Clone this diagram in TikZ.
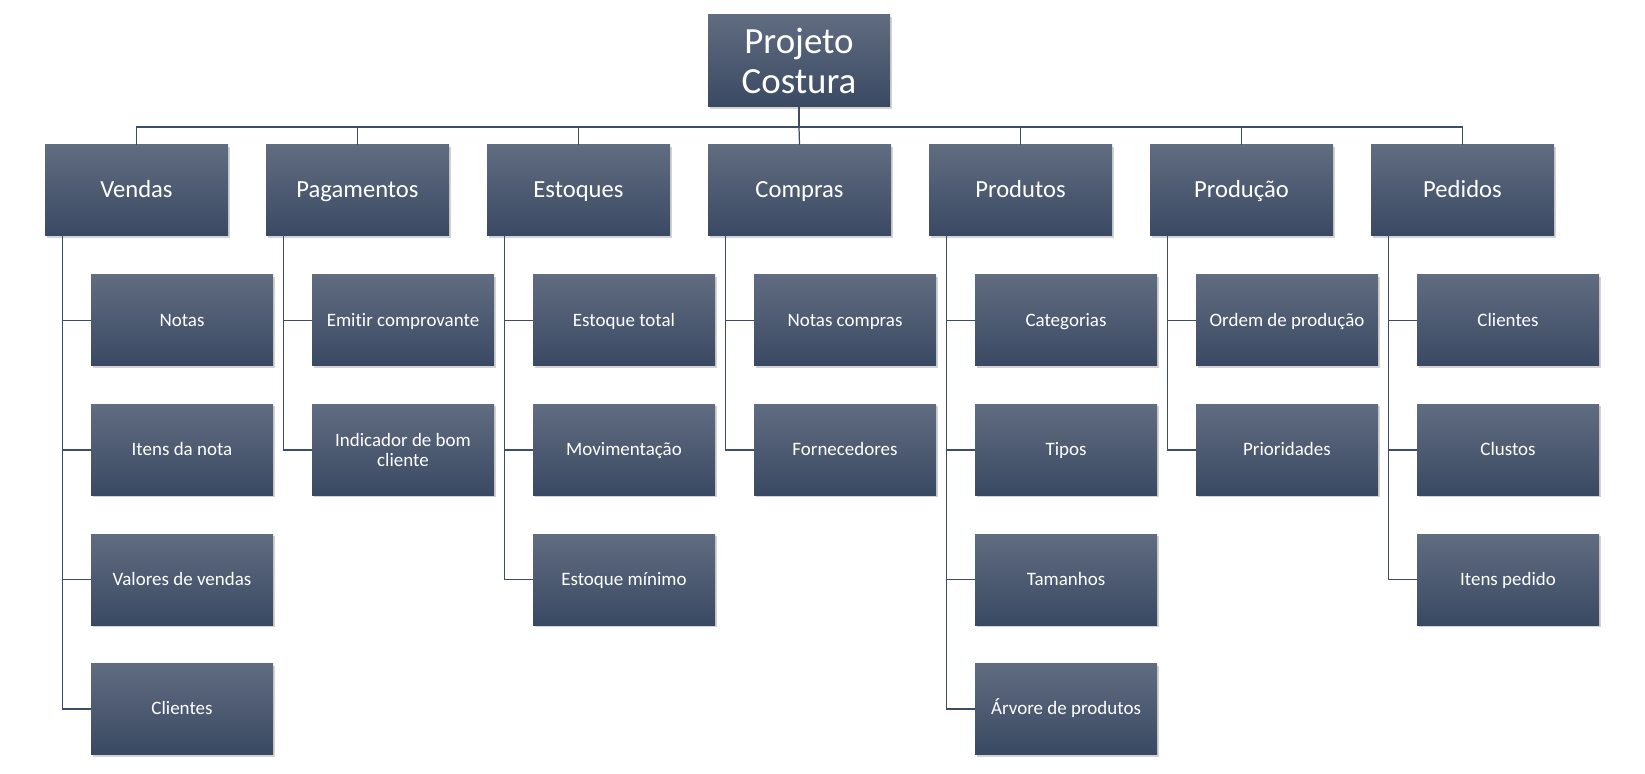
\documentclass[tikz,border=0pt]{standalone}
\usepackage{fontspec}
\setmainfont{Carlito}[RawFeature={-liga;-clig}]
\usepackage{tikz}
\usetikzlibrary{calc,positioning,shadows}
\usepackage{xcolor}
\definecolor{boxtop}{RGB}{96,108,128}
\definecolor{boxbot}{RGB}{58,73,99}
\definecolor{wire}{RGB}{62,76,100}

\tikzset{
  box/.style={rectangle,top color=boxtop,bottom color=boxbot,draw=none,text=white,align=center,
    drop shadow={opacity=0.35,shadow xshift=0.04cm,shadow yshift=-0.04cm}},
  rootbox/.style={box,minimum width=3.64cm,minimum height=1.84cm,font=\fontsize{21}{22.5}\selectfont},
  topbox/.style={box,minimum width=3.66cm,minimum height=1.82cm,text height=1.8ex,text depth=0.2ex,
    font=\fontsize{14}{16}\selectfont},
  subbox/.style={box,minimum width=3.64cm,minimum height=1.82cm,text height=1.55ex,text depth=0.2ex,
    font=\fontsize{10.8}{11.5}\selectfont},
  twoline/.style={text height=,text depth=},
  wire/.style={draw=wire,line width=0.7pt}
}

\begin{document}
\begin{tikzpicture}
  \useasboundingbox (0,0) rectangle (32.9,-15.48);
  % root
  \node[rootbox] (R) at (15.98,-1.22) {Projeto\\Costura};
  % first level
  \node[topbox] (V) at (2.73,-3.81) {Vendas};
  \node[topbox] (Pg) at (7.15,-3.81) {Pagamentos};
  \node[topbox] (E) at (11.57,-3.81) {Estoques};
  \node[topbox] (C) at (15.99,-3.81) {Compras};
  \node[topbox] (Pr) at (20.41,-3.81) {Produtos};
  \node[topbox] (Pd) at (24.83,-3.81) {Produção};
  \node[topbox] (Pe) at (29.25,-3.81) {Pedidos};
  % second level
  \node[subbox] (V1) at (3.64,-6.41) {Notas};
  \node[subbox] (V2) at (3.64,-9.00) {Itens da nota};
  \node[subbox] (V3) at (3.64,-11.59) {Valores de vendas};
  \node[subbox] (V4) at (3.64,-14.18) {Clientes};
  \node[subbox] (Pg1) at (8.06,-6.41) {Emitir comprovante};
  \node[subbox,twoline] (Pg2) at (8.06,-9.00) {Indicador de bom\\cliente};
  \node[subbox] (E1) at (12.48,-6.41) {Estoque total};
  \node[subbox] (E2) at (12.48,-9.00) {Movimentação};
  \node[subbox] (E3) at (12.48,-11.59) {Estoque mínimo};
  \node[subbox] (C1) at (16.90,-6.41) {Notas compras};
  \node[subbox] (C2) at (16.90,-9.00) {Fornecedores};
  \node[subbox] (Pr1) at (21.32,-6.41) {Categorias};
  \node[subbox] (Pr2) at (21.32,-9.00) {Tipos};
  \node[subbox] (Pr3) at (21.32,-11.59) {Tamanhos};
  \node[subbox] (Pr4) at (21.32,-14.18) {Árvore de produtos};
  \node[subbox] (Pd1) at (25.74,-6.41) {Ordem de produção};
  \node[subbox] (Pd2) at (25.74,-9.00) {Prioridades};
  \node[subbox] (Pe1) at (30.16,-6.41) {Clientes};
  \node[subbox] (Pe2) at (30.16,-9.00) {Clustos};
  \node[subbox] (Pe3) at (30.16,-11.59) {Itens pedido};
  % bus under the root
  \coordinate (bus) at (0,-2.54);
  \coordinate (B) at (R.south |- bus);
  \draw[wire] (R.south)--(B);
  \draw[wire] (B) -| (V.north);\draw[wire] (B) -| (Pg.north);\draw[wire] (B) -| (E.north);\draw[wire] (B) -- (C.north);
  \draw[wire] (B) -| (Pr.north);\draw[wire] (B) -| (Pd.north);\draw[wire] (B) -| (Pe.north);
  % branch lines
  \coordinate (Vt) at ($(V.south west)+(0.36,0)$);
  \coordinate (Pgt) at ($(Pg.south west)+(0.36,0)$);
  \coordinate (Et) at ($(E.south west)+(0.36,0)$);
  \coordinate (Ct) at ($(C.south west)+(0.36,0)$);
  \coordinate (Prt) at ($(Pr.south west)+(0.36,0)$);
  \coordinate (Pdt) at ($(Pd.south west)+(0.36,0)$);
  \coordinate (Pet) at ($(Pe.south west)+(0.36,0)$);
  \draw[wire] (Vt) |- (V1.west);\draw[wire] (Vt) |- (V2.west);\draw[wire] (Vt) |- (V3.west);\draw[wire] (Vt) |- (V4.west);
  \draw[wire] (Pgt) |- (Pg1.west);\draw[wire] (Pgt) |- (Pg2.west);
  \draw[wire] (Et) |- (E1.west);\draw[wire] (Et) |- (E2.west);\draw[wire] (Et) |- (E3.west);
  \draw[wire] (Ct) |- (C1.west);\draw[wire] (Ct) |- (C2.west);
  \draw[wire] (Prt) |- (Pr1.west);\draw[wire] (Prt) |- (Pr2.west);\draw[wire] (Prt) |- (Pr3.west);\draw[wire] (Prt) |- (Pr4.west);
  \draw[wire] (Pdt) |- (Pd1.west);\draw[wire] (Pdt) |- (Pd2.west);
  \draw[wire] (Pet) |- (Pe1.west);\draw[wire] (Pet) |- (Pe2.west);\draw[wire] (Pet) |- (Pe3.west);
\end{tikzpicture}
\end{document}
